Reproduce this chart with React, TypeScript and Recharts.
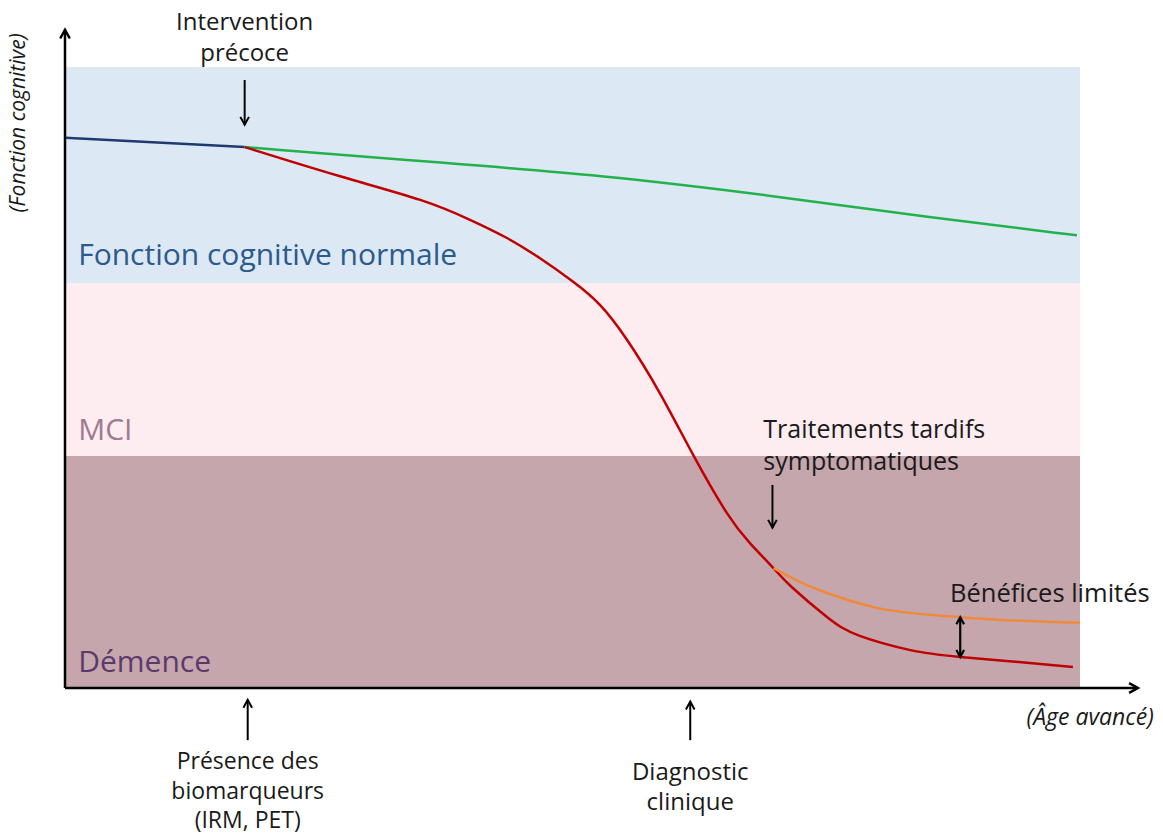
import React from "react";
import {
  ComposedChart,
  Line,
  XAxis,
  YAxis,
  ReferenceArea,
  ReferenceLine,
  ReferenceDot,
} from "recharts";

// ---- data (x: relative age 0-100, y: cognitive function 0-100) ----
const baselineSeries = [
  { x: 0, y: 88.6 },
  { x: 17.7, y: 87.1 },
];
const earlyInterventionSeries = [
  { x: 17.7, y: 87.1 },
  { x: 36.9, y: 84.6 },
  { x: 52.7, y: 82.6 },
  { x: 69.2, y: 79.4 },
  { x: 85.5, y: 75.7 },
  { x: 99.7, y: 72.9 },
];
const naturalDeclineSeries = [
  { x: 17.7, y: 87.1 },
  { x: 27.1, y: 82.4 },
  { x: 35.0, y: 78.6 },
  { x: 39.9, y: 75.4 },
  { x: 43.5, y: 72.5 },
  { x: 46.8, y: 69.2 },
  { x: 50.0, y: 65.5 },
  { x: 52.7, y: 61.7 },
  { x: 55.4, y: 56.0 },
  { x: 58.6, y: 47.5 },
  { x: 61.9, y: 37.5 },
  { x: 65.2, y: 28.2 },
  { x: 67.5, y: 23.3 },
  { x: 69.8, y: 19.3 },
  { x: 71.7, y: 16.1 },
  { x: 75.1, y: 11.4 },
  { x: 78.3, y: 8.4 },
  { x: 83.3, y: 6.1 },
  { x: 88.2, y: 5.0 },
  { x: 99.3, y: 3.4 },
];
const lateTreatmentSeries = [
  { x: 69.8, y: 19.3 },
  { x: 72.4, y: 17.1 },
  { x: 75.1, y: 15.3 },
  { x: 80.0, y: 12.9 },
  { x: 88.2, y: 11.4 },
  { x: 100, y: 10.5 },
];

// zones (y thresholds)
const zoneBounds = [0, 37.4, 65.2, 100];
const zoneColors = ["#C4A6AC", "#FDECF0", "#DCE8F4"];
const zoneLabels = ["Démence", "MCI", "Fonction cognitive normale"];
const zoneLabelColors = ["#5B3A6B", "#A07A90", "#2B5A8C"];
const zoneLabelY = [4.5, 41.9, 70.0];

const FONT = "'Open Sans', 'DejaVu Sans', sans-serif";

const makeArrow = (both: boolean, width: number, head: number) => (p: any) => {
  const { x1, y1, x2, y2 } = p;
  if ([x1, y1, x2, y2].some((v) => typeof v !== "number" || isNaN(v))) return <g />;
  const ang = Math.atan2(y2 - y1, x2 - x1);
  const chevron = (tx: number, ty: number, a: number) => {
    const a1 = a + Math.PI - 0.5;
    const a2 = a + Math.PI + 0.5;
    return (
      <polyline
        points={`${tx + head * Math.cos(a1)},${ty + head * Math.sin(a1)} ${tx},${ty} ${
          tx + head * Math.cos(a2)
        },${ty + head * Math.sin(a2)}`}
        fill="none"
        stroke="#000"
        strokeWidth={width}
        strokeLinejoin="miter"
      />
    );
  };
  return (
    <g>
      <line x1={x1} y1={y1} x2={x2} y2={y2} stroke="#000" strokeWidth={width} />
      {chevron(x2, y2, ang)}
      {both ? chevron(x1, y1, ang + Math.PI) : null}
    </g>
  );
};

const textShape =
  (lines: string[], opts: { anchor?: string; size?: number; color?: string; italic?: boolean; gap?: number; rotate?: boolean }) =>
  (p: any) => {
    const { cx, cy } = p;
    if (typeof cx !== "number" || typeof cy !== "number") return <g />;
    const size = opts.size ?? 20;
    const gap = opts.gap ?? 30;
    return (
      <text
        x={cx}
        y={cy}
        textAnchor={(opts.anchor as any) ?? "middle"}
        dominantBaseline="central"
        fontFamily={FONT}
        fontSize={size}
        fontStyle={opts.italic ? "italic" : "normal"}
        fill={opts.color ?? "#1a1a1a"}
        transform={opts.rotate ? `rotate(-90, ${cx}, ${cy})` : undefined}
      >
        {lines.map((l, i) => (
          <tspan key={i} x={cx} dy={i === 0 ? 0 : gap}>
            {l}
          </tspan>
        ))}
      </text>
    );
  };

export default function App() {
  return (
    <div style={{ margin: "-8px 0 0 -8px", width: 1163, height: 834 }}>
      <ComposedChart
        width={1163}
        height={834}
        margin={{ top: 67, right: 83, bottom: 146, left: 65 }}
        style={{ fontFamily: FONT, overflow: "visible" }}
      >
        <XAxis type="number" dataKey="x" domain={[0, 100]} hide allowDataOverflow />
        <YAxis type="number" dataKey="y" domain={[0, 100]} hide allowDataOverflow />

        {zoneColors.map((c, i) => (
          <ReferenceArea
            key={`z${i}`}
            x1={0}
            x2={100}
            y1={zoneBounds[i]}
            y2={zoneBounds[i + 1]}
            fill={c}
            fillOpacity={1}
            stroke="none"
            ifOverflow="visible"
          />
        ))}

        {zoneLabels.map((t, i) => (
          <ReferenceDot
            key={`zl${i}`}
            x={1.3}
            y={zoneLabelY[i]}
            r={0}
            ifOverflow="visible"
            shape={textShape([t], { anchor: "start", size: 30, color: zoneLabelColors[i] })}
          />
        ))}

        <Line data={baselineSeries} dataKey="y" type="linear" stroke="#1F3A70" strokeWidth={2.5} dot={false} isAnimationActive={false} />
        <Line data={earlyInterventionSeries} dataKey="y" type="basis" stroke="#22B24C" strokeWidth={2.5} dot={false} isAnimationActive={false} />
        <Line data={naturalDeclineSeries} dataKey="y" type="natural" stroke="#C00000" strokeWidth={2.5} dot={false} isAnimationActive={false} />
        <Line data={lateTreatmentSeries} dataKey="y" type="monotone" stroke="#F08A3A" strokeWidth={2.5} dot={false} isAnimationActive={false} />

        {/* axes with arrows */}
        <ReferenceLine segment={[{ x: 0, y: 0 }, { x: 0, y: 106 }]} ifOverflow="visible" shape={makeArrow(false, 2.5, 10)} />
        <ReferenceLine segment={[{ x: 0, y: 0 }, { x: 105.7, y: 0 }]} ifOverflow="visible" shape={makeArrow(false, 2.5, 10)} />

        {/* annotation arrows */}
        <ReferenceLine segment={[{ x: 17.7, y: 97.9 }, { x: 17.7, y: 90.7 }]} ifOverflow="visible" shape={makeArrow(false, 2, 9)} />
        <ReferenceLine segment={[{ x: 69.7, y: 32.7 }, { x: 69.7, y: 25.8 }]} ifOverflow="visible" shape={makeArrow(false, 2, 9)} />
        <ReferenceLine segment={[{ x: 88.2, y: 5.0 }, { x: 88.2, y: 11.4 }]} ifOverflow="visible" shape={makeArrow(true, 2.2, 8)} />
        <ReferenceLine segment={[{ x: 18.0, y: -8.4 }, { x: 18.0, y: -1.9 }]} ifOverflow="visible" shape={makeArrow(false, 2, 9)} />
        <ReferenceLine segment={[{ x: 61.6, y: -8.4 }, { x: 61.6, y: -2.2 }]} ifOverflow="visible" shape={makeArrow(false, 2, 9)} />

        {/* texts */}
        <ReferenceDot x={17.7} y={107.6} r={0} ifOverflow="visible" shape={textShape(["Intervention", "précoce"], { size: 24, gap: 31 })} />
        <ReferenceDot x={-4.7} y={91.0} r={0} ifOverflow="visible" shape={textShape(["(Fonction cognitive)"], { size: 21, italic: true, rotate: true })} />
        <ReferenceDot x={68.8} y={41.9} r={0} ifOverflow="visible" shape={textShape(["Traitements tardifs", "symptomatiques"], { anchor: "start", size: 25, gap: 32 })} />
        <ReferenceDot x={87.2} y={15.5} r={0} ifOverflow="visible" shape={textShape(["Bénéfices limités"], { anchor: "start", size: 25.5 })} />
        <ReferenceDot x={18.0} y={-11.6} r={0} ifOverflow="visible" shape={textShape(["Présence des", "biomarqueurs", "(IRM, PET)"], { size: 23, gap: 29.5 })} />
        <ReferenceDot x={61.6} y={-13.2} r={0} ifOverflow="visible" shape={textShape(["Diagnostic", "clinique"], { size: 24, gap: 30 })} />
        <ReferenceDot x={101.0} y={-4.5} r={0} ifOverflow="visible" shape={textShape(["(Âge avancé)"], { size: 23, italic: true })} />
      </ComposedChart>
    </div>
  );
}
